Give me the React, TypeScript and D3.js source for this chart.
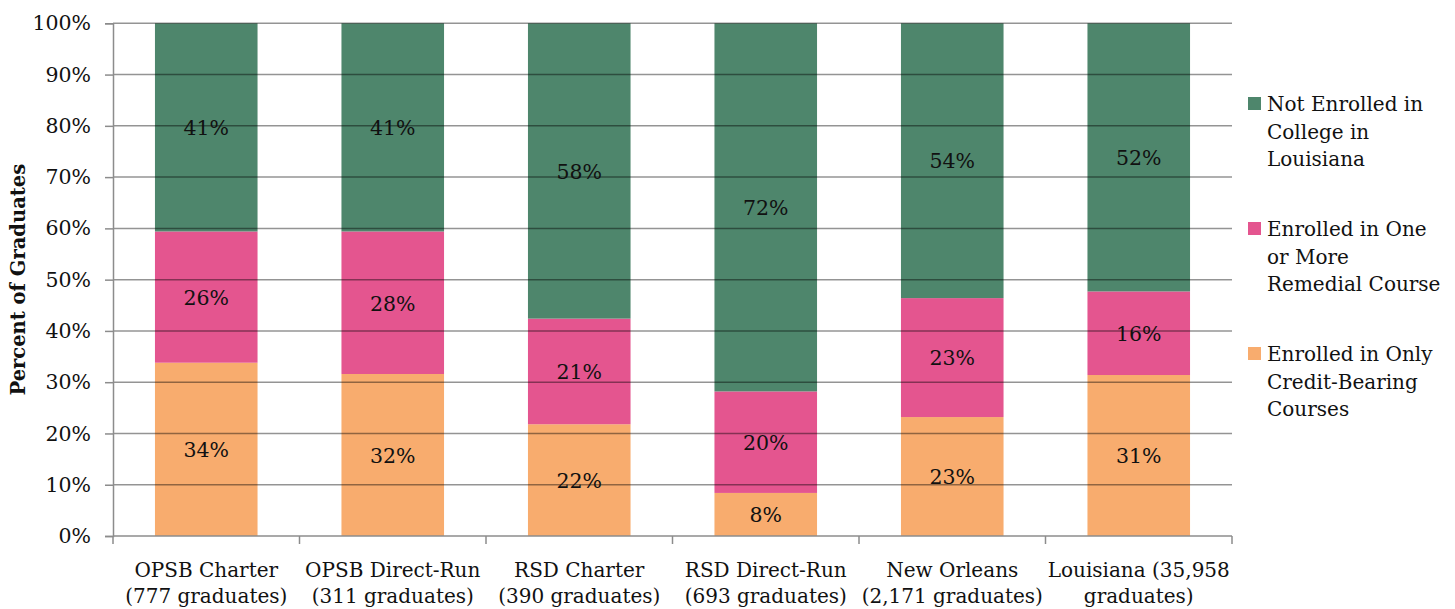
import { useEffect, useRef } from "react";
import * as d3 from "d3";

// categories along the x axis, each split into two lines
const categories = [
  ["OPSB Charter", "(777 graduates)"],
  ["OPSB Direct-Run", "(311 graduates)"],
  ["RSD Charter", "(390 graduates)"],
  ["RSD Direct-Run", "(693 graduates)"],
  ["New Orleans", "(2,171 graduates)"],
  ["Louisiana (35,958", "graduates)"],
];

// series values in percent, bottom to top
const creditOnly = [33.8, 31.6, 21.8, 8.4, 23.2, 31.4];
const remedial = [25.6, 27.8, 20.6, 19.8, 23.2, 16.3];
const notEnrolled = [40.6, 40.6, 57.6, 71.8, 53.6, 52.3];

const yTicks = [0, 10, 20, 30, 40, 50, 60, 70, 80, 90, 100];

const seriesNames = [
  ["Enrolled in Only", "Credit-Bearing", "Courses"],
  ["Enrolled in One", "or More", "Remedial Course"],
  ["Not Enrolled in", "College in", "Louisiana"],
];
const seriesColors = ["#f8ac6e", "#e4558f", "#4e866c"];

const FONT = "'DejaVu Serif', serif";

const App = () => {
  const svgRef = useRef<SVGSVGElement | null>(null);

  useEffect(() => {
    if (!svgRef.current) return;
    const width = 1455;
    const height = 609;
    const left = 113;
    const right = 1232;
    const top = 23.3;
    const bottom = 536;

    const svg = d3.select(svgRef.current);
    svg.selectAll("*").remove();
    svg.attr("width", width).attr("height", height);

    const x = d3
      .scaleBand<number>()
      .domain(categories.map((_, i) => i))
      .range([left, right])
      .paddingInner(0.45)
      .paddingOuter(0.225);

    const y = d3.scaleLinear().domain([0, 100]).range([bottom, top]);

    // stacked data
    const rows = categories.map((_, i) => ({
      i,
      s0: creditOnly[i],
      s1: remedial[i],
      s2: notEnrolled[i],
    }));
    const stack = d3.stack<any>().keys(["s0", "s1", "s2"]);
    const layers = stack(rows);

    const g = svg.append("g");

    layers.forEach((layer, k) => {
      g.selectAll(`rect.l${k}`)
        .data(layer)
        .enter()
        .append("rect")
        .attr("x", (d: any) => x(d.data.i)!)
        .attr("width", x.bandwidth())
        .attr("y", (d: any) => y(d[1]))
        .attr("height", (d: any) => y(d[0]) - y(d[1]))
        .attr("fill", seriesColors[k]);
    });

    // gridlines drawn over bars (semi-transparent so they darken the bars)
    g.selectAll("line.grid")
      .data(yTicks.filter((t) => t > 0))
      .enter()
      .append("line")
      .attr("x1", left)
      .attr("x2", right)
      .attr("y1", (d) => y(d))
      .attr("y2", (d) => y(d))
      .attr("stroke", "#000")
      .attr("stroke-opacity", 0.42)
      .attr("stroke-width", 1.5);

    // value labels
    layers.forEach((layer) => {
      g.selectAll(null)
        .data(layer)
        .enter()
        .append("text")
        .attr("x", (d: any) => x(d.data.i)! + x.bandwidth() / 2)
        .attr("y", (d: any) => (y(d[0]) + y(d[1])) / 2)
        .attr("dy", "0.38em")
        .attr("text-anchor", "middle")
        .attr("font-family", FONT)
        .attr("font-size", 20.5)
        .attr("fill", "#111")
        .text((d: any) => `${Math.round(d[1] - d[0])}%`);
    });

    // y axis
    const yAxis = g
      .append("g")
      .attr("transform", `translate(${left},0)`)
      .call(
        d3
          .axisLeft(y)
          .tickValues(yTicks)
          .tickSize(8)
          .tickPadding(14)
          .tickFormat((d) => `${d}%`)
      );
    yAxis.select(".domain").attr("stroke", "#8c8c8c").attr("stroke-width", 1.5);
    yAxis.selectAll(".tick line").attr("stroke", "#8c8c8c").attr("stroke-width", 1.5);
    yAxis
      .selectAll(".tick text")
      .attr("font-family", FONT)
      .attr("font-size", 20.5)
      .attr("fill", "#111");

    // x axis
    const xAxis = g.append("g");
    xAxis
      .append("line")
      .attr("x1", left)
      .attr("x2", right)
      .attr("y1", bottom)
      .attr("y2", bottom)
      .attr("stroke", "#8c8c8c")
      .attr("stroke-width", 1.5);
    const bounds = d3.range(categories.length + 1).map((i) => left + i * x.step());
    xAxis
      .selectAll("line.tk")
      .data(bounds)
      .enter()
      .append("line")
      .attr("x1", (d) => d)
      .attr("x2", (d) => d)
      .attr("y1", bottom)
      .attr("y2", bottom + 8)
      .attr("stroke", "#8c8c8c")
      .attr("stroke-width", 1.5);
    const xl = xAxis
      .selectAll("text.cat")
      .data(categories)
      .enter()
      .append("text")
      .attr("text-anchor", "middle")
      .attr("font-family", FONT)
      .attr("font-size", 20)
      .attr("fill", "#111");
    xl.each(function (d, i) {
      const t = d3.select(this);
      d.forEach((line, j) => {
        t.append("tspan")
          .attr("x", x(i)! + x.bandwidth() / 2)
          .attr("y", 577 + j * 25.5)
          .text(line);
      });
    });

    // y axis title
    g.append("text")
      .attr("transform", `translate(25,${(top + bottom) / 2}) rotate(-90)`)
      .attr("text-anchor", "middle")
      .attr("font-family", FONT)
      .attr("font-weight", "bold")
      .attr("font-size", 19.5)
      .attr("fill", "#111")
      .text("Percent of Graduates");

    // legend (top to bottom: not enrolled, remedial, credit only)
    const legendTops = [97, 222, 347];
    [2, 1, 0].forEach((k, idx) => {
      const ty = legendTops[idx];
      g.append("rect")
        .attr("x", 1248)
        .attr("y", ty)
        .attr("width", 13)
        .attr("height", 13)
        .attr("fill", seriesColors[k]);
      const t = g
        .append("text")
        .attr("font-family", FONT)
        .attr("font-size", 20)
        .attr("fill", "#111");
      seriesNames[k].forEach((line, j) => {
        t.append("tspan")
          .attr("x", 1267)
          .attr("y", ty + 14 + j * 27.5)
          .text(line);
      });
    });
  }, []);

  return (
    <svg
      ref={svgRef}
      style={{ position: "absolute", left: 0, top: 0, background: "#fff" }}
    ></svg>
  );
};

export default App;
